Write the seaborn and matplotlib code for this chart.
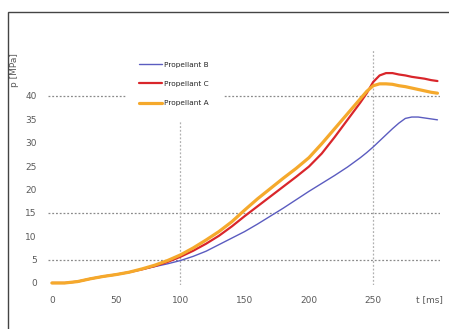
import matplotlib
matplotlib.use("Agg")
import matplotlib.pyplot as plt
import seaborn as sns
import pandas as pd
from matplotlib.patches import Rectangle

# time axis [ms]
t_ms = [0, 10, 20, 30, 40, 50, 60, 70, 80, 90, 100, 110, 120, 130, 140, 150,
        160, 170, 180, 190, 200, 210, 220, 230, 240, 245, 250, 255, 260, 265,
        270, 275, 280, 285, 290, 295, 300]

# pressure [MPa] per propellant
p_B = [0, 0, 0.3, 0.9, 1.4, 1.8, 2.3, 2.9, 3.5, 4.1, 4.8, 5.7, 6.8, 8.2, 9.6,
       11.0, 12.6, 14.3, 16.0, 17.8, 19.6, 21.3, 23.0, 24.8, 26.8, 27.9, 29.1,
       30.4, 31.7, 33.0, 34.2, 35.2, 35.5, 35.5, 35.3, 35.1, 34.9]
p_C = [0, 0, 0.3, 0.9, 1.4, 1.8, 2.3, 2.9, 3.6, 4.5, 5.6, 6.9, 8.4, 10.1, 12.1,
       14.3, 16.4, 18.5, 20.6, 22.7, 24.9, 27.7, 31.2, 34.9, 38.6, 40.6, 43.0,
       44.4, 44.9, 44.9, 44.6, 44.4, 44.1, 43.9, 43.7, 43.4, 43.2]
p_A = [0, 0, 0.3, 0.9, 1.4, 1.8, 2.3, 3.0, 3.8, 4.8, 6.0, 7.5, 9.2, 11.0, 13.1,
       15.6, 18.0, 20.2, 22.4, 24.5, 26.8, 29.8, 33.0, 36.2, 39.4, 41.0, 42.2,
       42.6, 42.6, 42.5, 42.2, 42.0, 41.7, 41.4, 41.1, 40.8, 40.6]

labels = ["Propellant B", "Propellant C", "Propellant A"]
series = [p_B, p_C, p_A]
colors = {"Propellant B": "#5b5cc0", "Propellant C": "#d9262b", "Propellant A": "#f5a92c"}
widths = {"Propellant B": 1.0, "Propellant C": 1.6, "Propellant A": 2.3}

xticks = [0, 50, 100, 150, 200, 250]
yticks = [0, 5, 10, 15, 20, 25, 30, 35, 40]
hgrid = [5, 15, 40]
vgrid = [100, 250]

sns.set_theme(style="white")
plt.rcParams['font.family'] = ['DejaVu Sans']

fig = plt.figure(figsize=(4.49, 3.29), dpi=100)
ax = fig.add_axes([0.107, 0.1328, 0.873, 0.7175])

for y in hgrid:
    ax.axhline(y, color="#8a8a8a", lw=0.9, ls=(0, (1.5, 1.5)), zorder=1)
for x in vgrid:
    ax.axvline(x, color="#b0b0b0", lw=0.9, ls=(0, (1.5, 1.5)), zorder=1)

for lab, vals in zip(labels, series):
    df = pd.DataFrame({"t": t_ms, "p": vals})
    sns.lineplot(data=df, x="t", y="p", ax=ax, color=colors[lab],
                 linewidth=widths[lab], label=lab, zorder=3)

ax.set_xlim(-3, 302)
ax.set_ylim(-0.5, 50)
ax.set_xticks(xticks)
ax.set_yticks(yticks)
ax.set_xlabel("")
ax.set_ylabel("")
ax.tick_params(axis="both", length=0, labelsize=6.5, labelcolor="#5a5a5a", pad=8)
for s in ax.spines.values():
    s.set_visible(False)

ax.text(294, -2.6, "t [ms]", ha="center", va="top", fontsize=6.5,
        color="#5a5a5a")
ax.text(-0.085, 0.985, "p [MPa]", rotation=90, ha="center", va="top",
        fontsize=6.5, color="#5a5a5a", transform=ax.transAxes)

leg = ax.legend(loc="center", bbox_to_anchor=(0.387, 0.745),
                bbox_transform=fig.transFigure, fontsize=5.3, frameon=True,
                framealpha=1, edgecolor="white", fancybox=False,
                handlelength=3.1, labelspacing=1.8, handletextpad=0.3,
                borderpad=1.8)
leg.set_zorder(5)

# outer frame of the picture (cut at right and bottom)
fig.patches.append(Rectangle((8 / 449, -0.1), 1.2, 1 - 12 / 329 + 0.1,
                             transform=fig.transFigure, fill=False,
                             edgecolor="#444444", lw=1.0))

fig.savefig("out.png", dpi=100)
